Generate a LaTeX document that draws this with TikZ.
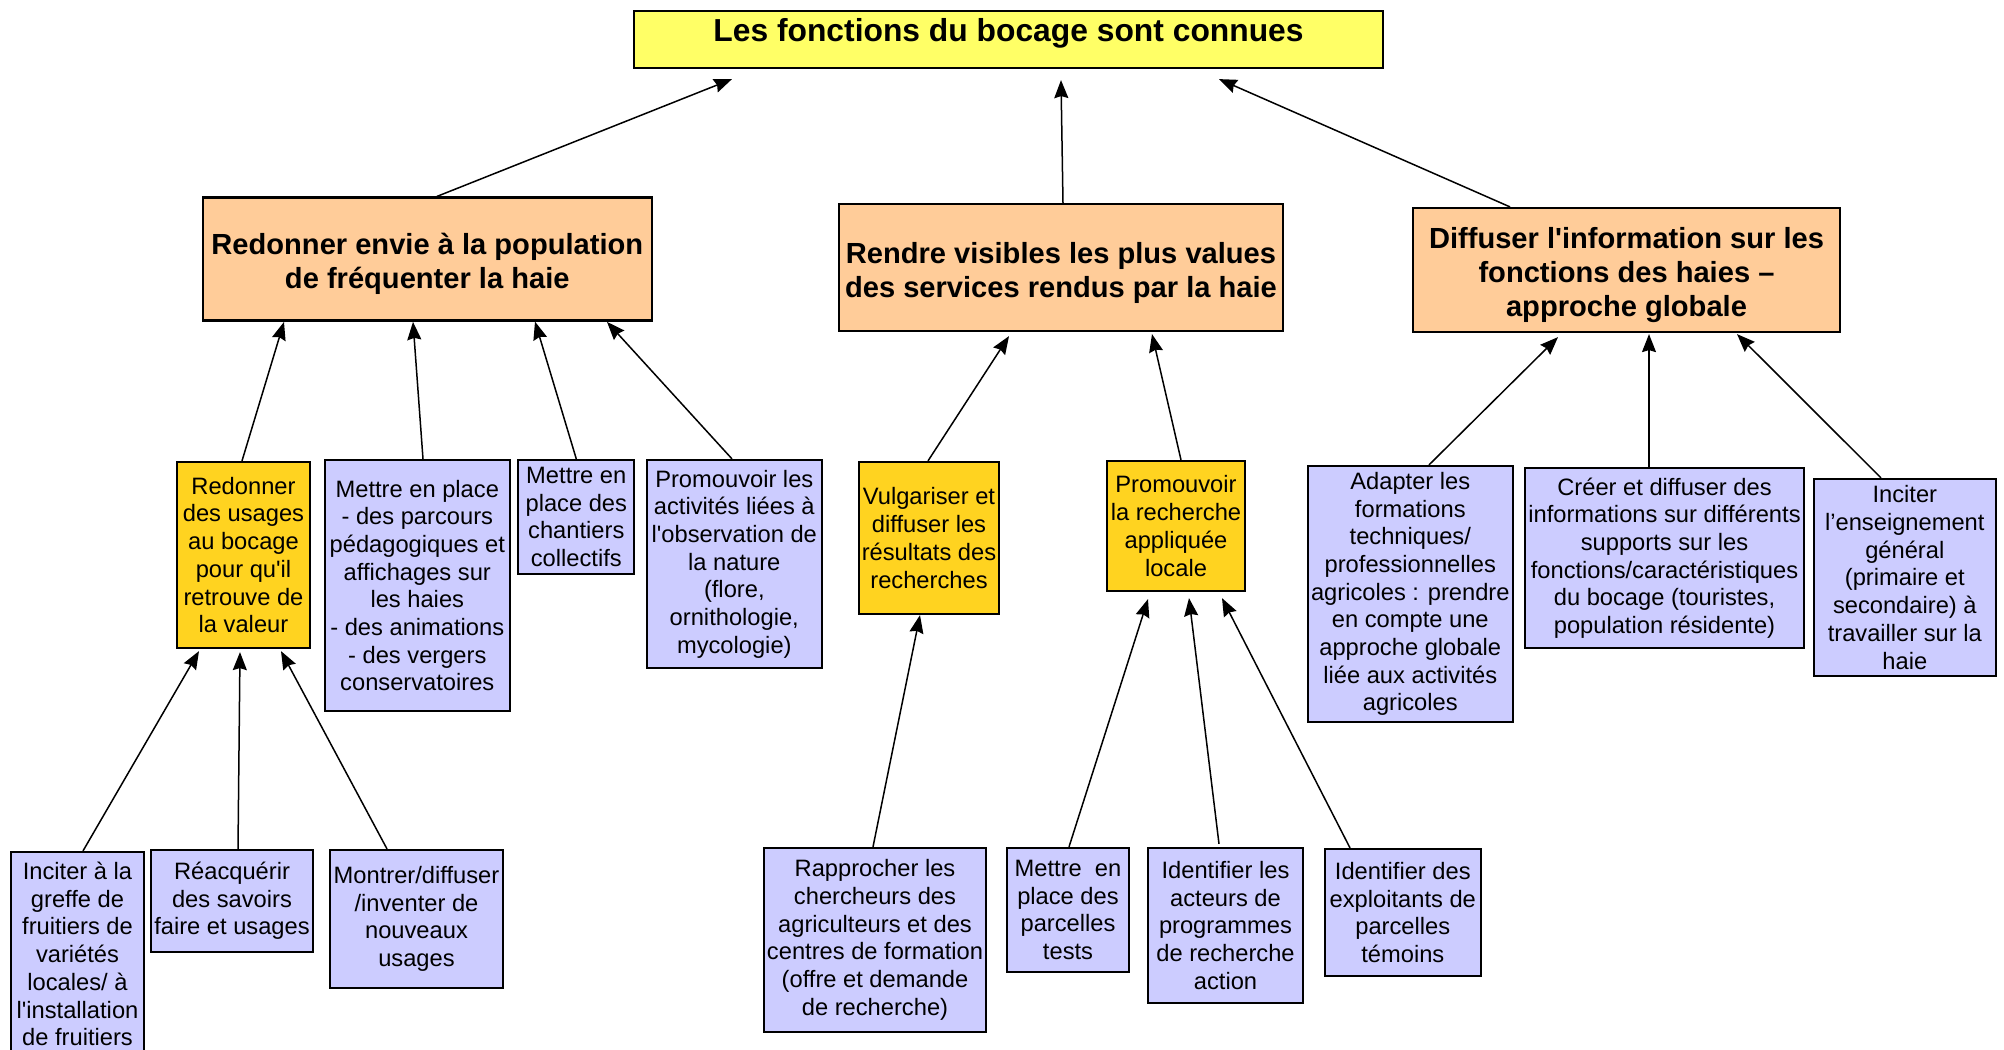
\documentclass[tikz,border=0pt]{standalone}
\usepackage{fontspec}
\newfontfamily\arial{Liberation Sans}
\usetikzlibrary{calc,arrows.meta}
\definecolor{cTitle}{HTML}{FFFF66}
\definecolor{cPeach}{HTML}{FFCC99}
\definecolor{cGold}{HTML}{FFD320}
\definecolor{cLav}{HTML}{CCCCFF}
\newcommand{\topgap}{\rule{0pt}{15.7pt}}
\begin{document}
\begin{tikzpicture}[x=0.5pt,y=-0.5pt,
  box/.style={draw=black, line width=1.1pt, inner sep=0pt, align=center},
  bx/.style 2 args={minimum width=#1*0.5pt, minimum height=#2*0.5pt},
  smalltext/.style={font=\arial\fontsize{11.85}{13.85}\selectfont},
  midtext/.style={font=\arial\bfseries\fontsize{14.55}{17}\selectfont},
  titlebox/.style={box, fill=cTitle, font=\arial\bfseries\fontsize{15.9}{18}\selectfont},
  peachbox/.style={box, midtext, fill=cPeach},
  goldbox/.style={box, smalltext, fill=cGold},
  lavbox/.style={box, smalltext, fill=cLav},
  arr/.style={-{Stealth[length=9pt,width=7pt,inset=1pt]}, line width=0.75pt}
]
\useasboundingbox (0,0) rectangle (2004,1050);
\clip (0,0) rectangle (2004,1050);

% top
\node[titlebox, bx={749}{57}, text height=11.5pt, text depth=9.3pt] (T) at (1008.5,39.5) {Les fonctions du bocage sont connues};

% level 2
\node[peachbox, bx={449}{123}] (A) at (427.3,259) {\topgap Redonner envie à la population\\de fréquenter la haie};
\node[peachbox, bx={444}{127}] (B) at (1061,267.5) {\topgap Rendre visibles les plus values\\des services rendus par la haie};
\node[peachbox, bx={427}{124}] (C) at (1626.5,270) {\topgap Diffuser l'information sur les\\fonctions des haies –\\approche globale};

% level 3
\node[goldbox, bx={133}{186}] (a1) at (243.5,555) {Redonner\\des usages\\au bocage\\pour qu'il\\retrouve de\\la valeur};
\node[lavbox, bx={185}{251}] (a2) at (417.3,585.5) {Mettre en place\\- des parcours\\pédagogiques et\\affichages sur\\les haies\\- des animations\\- des vergers\\conservatoires};
\node[lavbox, bx={116}{114}] (a3) at (576.3,517) {Mettre en\\place des\\chantiers\\collectifs};
\node[lavbox, bx={175}{208}] (a4) at (734.3,564) {Promouvoir les\\activités liées à\\l'observation de\\la nature\\(flore,\\ornithologie,\\mycologie)};
\node[goldbox, bx={140}{152}] (b1) at (929,538) {Vulgariser et\\diffuser les\\résultats des\\recherches};
\node[goldbox, bx={138}{130}] (b2) at (1176,526) {Promouvoir\\la recherche\\appliquée\\locale};
\node[lavbox, bx={205}{256}] (c1) at (1410.3,594) {Adapter les\\formations\\techniques/\\professionnelles\\agricoles : prendre\\en compte une\\approche globale\\liée aux activités\\agricoles};
\node[lavbox, bx={279}{180}] (c2) at (1664.5,558) {Créer et diffuser des\\informations sur différents\\supports sur les\\fonctions/caractéristiques\\du bocage (touristes,\\population résidente)};
\node[lavbox, bx={182}{197}] (c3) at (1904.8,577.5) {Inciter\\l’enseignement\\général\\(primaire et\\secondaire) à\\travailler sur la\\haie};

% level 4
\node[lavbox, bx={133}{204}] (d1) at (77.5,954) {Inciter à la\\greffe de\\fruitiers de\\variétés\\locales/ à\\l'installation\\de fruitiers};
\node[lavbox, bx={162}{102}] (d2) at (232,901) {Réacquérir\\des savoirs\\faire et usages};
\node[lavbox, bx={173}{138}] (d3) at (416.5,919) {Montrer/diffuser\\/inventer de\\nouveaux\\usages};
\node[lavbox, bx={222}{184}] (e1) at (875,940) {Rapprocher les\\chercheurs des\\agriculteurs et des\\centres de formation\\(offre et demande\\de recherche)};
\node[lavbox, bx={122}{124}] (f1) at (1068,910) {Mettre~ en\\place des\\parcelles\\tests};
\node[lavbox, bx={155}{155}] (f2) at (1225.5,925.5) {Identifier les\\acteurs de\\programmes\\de recherche\\action};
\node[lavbox, bx={156}{127}] (f3) at (1402.8,912.5) {Identifier des\\exploitants de\\parcelles\\témoins};

% connectors to title
\draw[arr] ($(A.north)+(9.7,0)$) -- ($(T.south)+(-276.5,10)$);
\draw[arr] ($(B.north)+(2,0)$) -- ($(T.south)+(52.5,11)$);
\draw[arr] ($(C.north)+(-116.5,0)$) -- ($(T.south)+(210.5,10)$);

% level 3 to level 2
\draw[arr] ($(a1.north)+(-1.5,0)$) -- ($(A.south)+(-143.3,0.3)$);
\draw[arr] ($(a2.north)+(5.7,0)$) -- ($(A.south)+(-14.3,0.3)$);
\draw[arr] ($(a3.north)+(0,0)$) -- ($(A.south)+(107.7,0)$);
\draw[arr] ($(a4.north)+(-2.3,0)$) -- ($(A.south)+(179.7,0.3)$);
\draw[arr] ($(b1.north)+(-1,0)$) -- ($(B.south)+(-52,4)$);
\draw[arr] ($(b2.north)+(5,0)$) -- ($(B.south)+(91,2)$);
\draw[arr] ($(c1.north)+(18.7,0)$) -- ($(C.south)+(-68.5,4)$);
\draw[arr] ($(c2.north)+(-15.5,0)$) -- ($(C.south)+(22.5,1)$);
\draw[arr] ($(c3.north)+(-23.8,0)$) -- ($(C.south)+(110.5,1)$);

% level 4 to level 3
\draw[arr] ($(d1.north)+(5.5,0)$) -- ($(a1.south)+(-44.5,2)$);
\draw[arr] ($(d2.north)+(6,0)$) -- ($(a1.south)+(-3.5,3)$);
\draw[arr] ($(d3.north)+(-29.5,0)$) -- ($(a1.south)+(37.5,2)$);
\draw[arr] ($(e1.north)+(-2,0)$) -- ($(b1.south)+(-9,0)$);
\draw[arr] ($(f1.north)+(1,0)$) -- ($(b2.south)+(-28,7)$);
\draw[arr] ($(f2.north)+(-6.5,-3)$) -- ($(b2.south)+(13,6)$);
\draw[arr] ($(f3.north)+(-52.8,0)$) -- ($(b2.south)+(46,6)$);
\end{tikzpicture}
\end{document}
